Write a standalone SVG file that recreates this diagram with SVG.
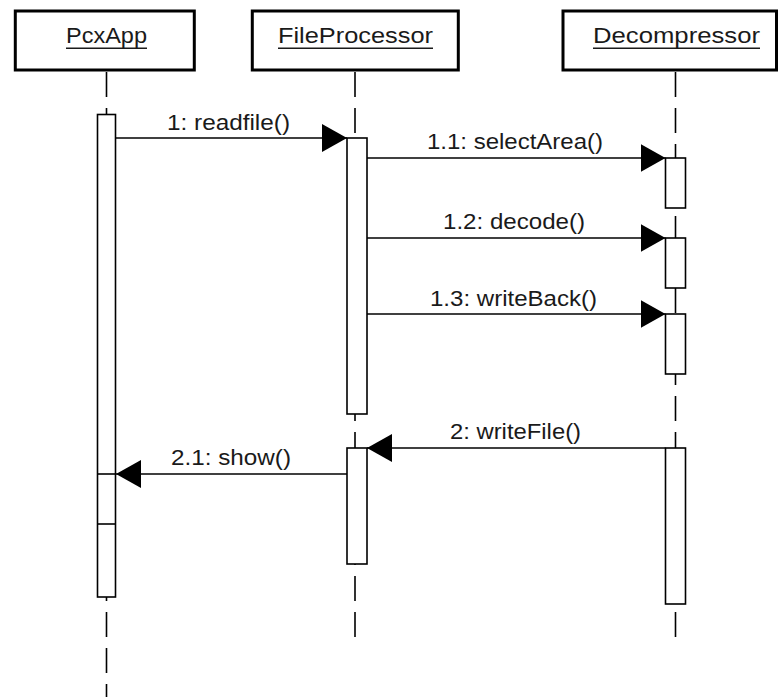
<svg xmlns="http://www.w3.org/2000/svg" width="778" height="697" viewBox="0 0 778 697">
<style>
.obj{fill:#fff;stroke:#000;stroke-width:3}
.life{stroke:#000;stroke-width:1.6;stroke-dasharray:25 11;fill:none}
.act{fill:#fff;stroke:#000;stroke-width:1.6}
.msg{stroke:#000;stroke-width:1.6;fill:none;marker-end:url(#ah)}
.t{font-family:"Liberation Sans",Arial,sans-serif;font-size:22px;fill:#1a1a1a}
.ul{stroke:#1a1a1a;stroke-width:1.5}
</style>
<defs>
<marker id="ah" markerUnits="userSpaceOnUse" markerWidth="26" markerHeight="30" refX="25" refY="14" orient="auto" viewBox="0 0 26 30">
<path d="M0,0 L25,14 L0,28 z" fill="#000"/>
</marker>
</defs>
<rect width="778" height="697" fill="#fff"/>
<g id="lifelines">
<line class="life" x1="106.5" y1="72" x2="106.5" y2="697"/>
<line class="life" x1="355" y1="72" x2="355" y2="637"/>
<line class="life" x1="675.5" y1="72" x2="675.5" y2="637"/>
</g>
<g id="PcxApp">
<rect class="obj" x="15.3" y="11" width="179" height="59"/>
<text class="t" x="66" y="43" textLength="81" lengthAdjust="spacingAndGlyphs">PcxApp</text>
<line class="ul" x1="66" y1="48.3" x2="147" y2="48.3"/>
</g>
<g id="FileProcessor">
<rect class="obj" x="252.3" y="11" width="206" height="59"/>
<text class="t" x="278" y="43" textLength="155" lengthAdjust="spacingAndGlyphs">FileProcessor</text>
<line class="ul" x1="278" y1="48.3" x2="433" y2="48.3"/>
</g>
<g id="Decompressor">
<rect class="obj" x="563" y="11" width="213.5" height="59"/>
<text class="t" x="593" y="43" textLength="167" lengthAdjust="spacingAndGlyphs">Decompressor</text>
<line class="ul" x1="593" y1="48.3" x2="760" y2="48.3"/>
</g>
<g id="activations">
<rect class="act" x="97.5" y="114.5" width="18" height="482.5"/>
<line class="act" x1="97.5" y1="474" x2="115.5" y2="474"/>
<line class="act" x1="97.5" y1="524" x2="115.5" y2="524"/>
<rect class="act" x="347" y="138" width="20" height="276"/>
<rect class="act" x="347" y="448" width="20" height="116"/>
<rect class="act" x="665.5" y="158" width="20" height="50"/>
<rect class="act" x="665.5" y="238" width="20" height="50"/>
<rect class="act" x="665.5" y="314" width="20" height="60"/>
<rect class="act" x="665.5" y="448" width="20" height="156"/>
</g>
<g id="connectors">
<line class="msg" x1="116" y1="138" x2="347" y2="138"/>
<line class="msg" x1="367" y1="158" x2="665.5" y2="158"/>
<line class="msg" x1="367" y1="238" x2="665.5" y2="238"/>
<line class="msg" x1="367" y1="314" x2="665.5" y2="314"/>
<line class="msg" x1="665.5" y1="448" x2="367" y2="448"/>
<line class="msg" x1="347" y1="474" x2="116" y2="474"/>
<text class="t" x="167" y="130" textLength="123" lengthAdjust="spacingAndGlyphs">1: readfile()</text>
<text class="t" x="427" y="149" textLength="176" lengthAdjust="spacingAndGlyphs">1.1: selectArea()</text>
<text class="t" x="443" y="229" textLength="142" lengthAdjust="spacingAndGlyphs">1.2: decode()</text>
<text class="t" x="430" y="306" textLength="167" lengthAdjust="spacingAndGlyphs">1.3: writeBack()</text>
<text class="t" x="450" y="439" textLength="131" lengthAdjust="spacingAndGlyphs">2: writeFile()</text>
<text class="t" x="171" y="465" textLength="120" lengthAdjust="spacingAndGlyphs">2.1: show()</text>
</g>
</svg>
